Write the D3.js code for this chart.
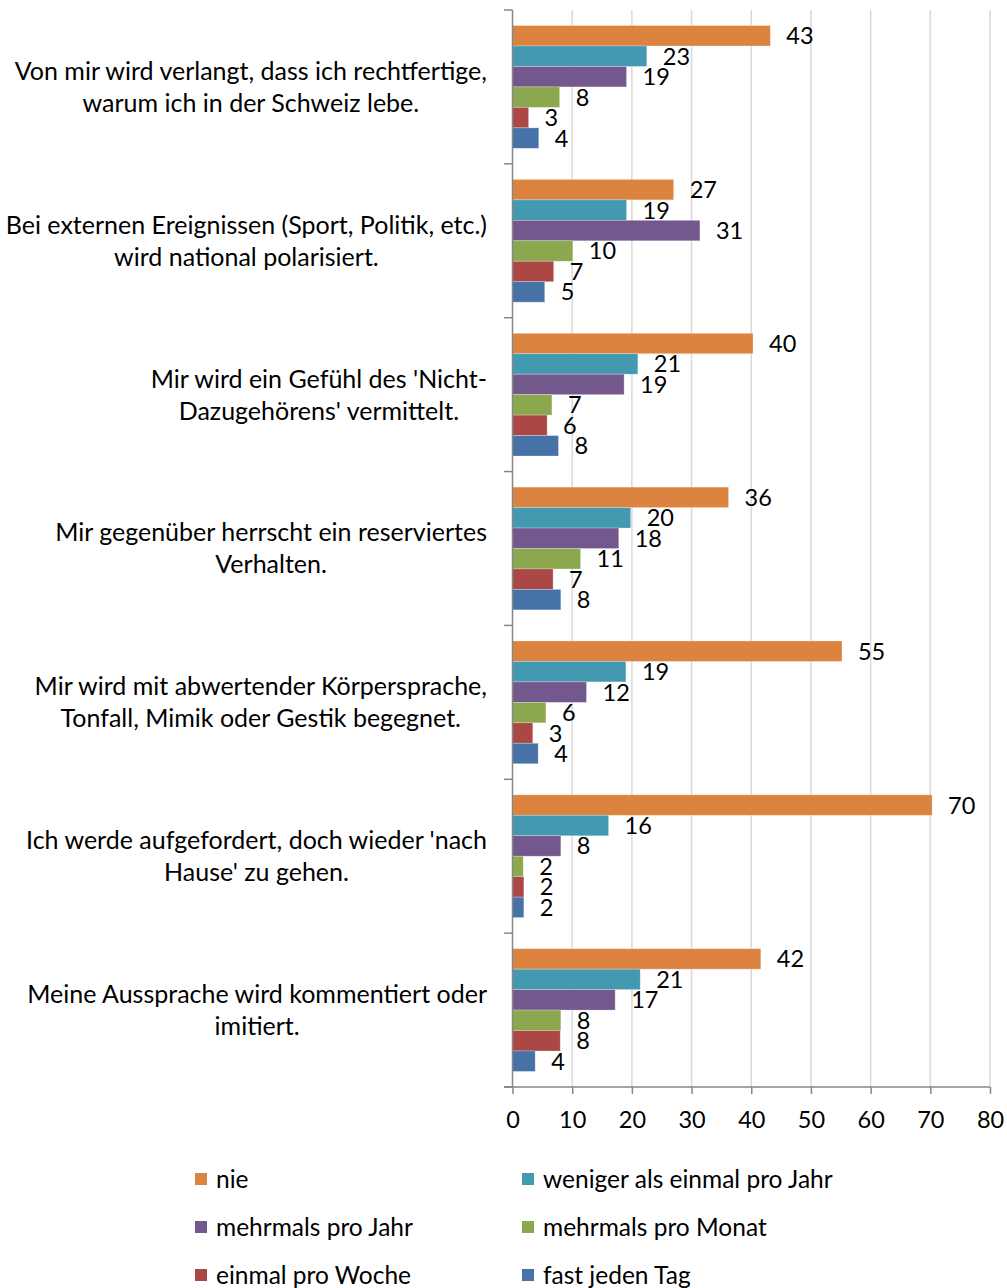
<!DOCTYPE html>
<html>
<head>
<meta charset="utf-8">
<script src="https://cdn.jsdelivr.net/npm/d3@7"></script>
<style>
  body { margin: 0; background: #fff; }
  svg text { font-family: Lato, "Open Sans", sans-serif; fill: #000; }
</style>
</head>
<body>
<div id="container"></div>
<script>
let width = 1007;
let height = 1288;

// category labels, already broken into lines as in the picture
var categories = [
  ["Von mir wird verlangt, dass ich rechtfertige,", "warum ich in der Schweiz lebe."],
  ["Bei externen Ereignissen (Sport, Politik, etc.)", "wird national polarisiert."],
  ["Mir wird ein Gefühl des 'Nicht-", "Dazugehörens' vermittelt."],
  ["Mir gegenüber herrscht ein reserviertes", "Verhalten."],
  ["Mir wird mit abwertender Körpersprache,", "Tonfall, Mimik oder Gestik begegnet."],
  ["Ich werde aufgefordert, doch wieder 'nach", "Hause' zu gehen."],
  ["Meine Aussprache wird kommentiert oder", "imitiert."]
];

var seriesNames = ["nie", "weniger als einmal pro Jahr", "mehrmals pro Jahr",
  "mehrmals pro Monat", "einmal pro Woche", "fast jeden Tag"];

var seriesColors = ["#DC843F", "#4399B0", "#72588D", "#8BA84E", "#AB4745", "#4672A8"];

// one array per series, in category order
var nie       = [43.2, 27.0, 40.3, 36.2, 55.2, 70.3, 41.6];
var weniger   = [22.5, 19.1, 21.0, 19.8, 19.0, 16.1, 21.4];
var mehrJahr  = [19.1, 31.4, 18.7, 17.8, 12.4, 8.1, 17.2];
var mehrMonat = [7.9, 10.1, 6.6, 11.4, 5.6, 1.8, 8.1];
var woche     = [2.7, 6.9, 5.8, 6.8, 3.4, 1.9, 8.0];
var taeglich  = [4.4, 5.4, 7.7, 8.1, 4.3, 1.9, 3.8];

var xTicks = [0, 10, 20, 30, 40, 50, 60, 70, 80];

var series = [nie, weniger, mehrJahr, mehrMonat, woche, taeglich];

let viz = d3.select("#container").append("svg")
  .attr("width", width)
  .attr("height", height);

let x = d3.scaleLinear().domain([0, 80]).range([512.5, 990]);
let y = d3.scaleBand().domain(d3.range(categories.length)).range([10, 1087]);
let yInner = d3.scaleBand().domain(d3.range(series.length))
  .range([0, y.bandwidth()]).paddingOuter(0.76);

// gridlines
viz.append("g")
  .selectAll("line")
  .data(xTicks.slice(1))
  .enter().append("line")
    .attr("x1", d => x(d)).attr("x2", d => x(d))
    .attr("y1", 10).attr("y2", 1087)
    .attr("stroke", "#d9d9d9")
    .attr("stroke-width", 1.5);

// bars
let group = viz.selectAll(".cat")
  .data(categories)
  .enter().append("g")
    .attr("class", "cat")
    .attr("transform", (d, i) => "translate(0," + y(i) + ")");

group.each(function(c, ci) {
  let g = d3.select(this);
  let vals = series.map(s => s[ci]);

  g.selectAll("rect")
    .data(vals)
    .enter().append("rect")
      .attr("x", x(0))
      .attr("y", (d, si) => yInner(si))
      .attr("width", d => x(d) - x(0))
      .attr("height", yInner.bandwidth())
      .attr("fill", (d, si) => seriesColors[si])
      .attr("stroke", "#fff")
      .attr("stroke-opacity", 0.35)
      .attr("stroke-width", 0.75);

  g.selectAll(".val")
    .data(vals)
    .enter().append("text")
      .attr("class", "val")
      .attr("x", d => x(d) + 16)
      .attr("y", (d, si) => yInner(si) + yInner.bandwidth() / 2)
      .attr("dy", "0.36em")
      .style("font-size", "23.5px")
      .text(d => Math.round(d));

  // label block: right aligned to the axis, lines centered inside it
  let lab = g.append("text")
    .style("font-size", "25px")
    .attr("text-anchor", "middle");
  lab.selectAll("tspan")
    .data(c)
    .enter().append("tspan")
      .attr("y", (d, li) => y.bandwidth() / 2 + (li - (c.length - 1) / 2) * 32)
      .attr("dy", "0.36em")
      .text(d => d);
  let maxW = 0;
  lab.selectAll("tspan").each(function() {
    maxW = Math.max(maxW, this.getComputedTextLength());
  });
  lab.selectAll("tspan").attr("x", 487 - maxW / 2);
});

// y axis with ticks between categories
let yAxis = viz.append("g");
yAxis.append("line")
  .attr("x1", x(0)).attr("x2", x(0))
  .attr("y1", 10).attr("y2", 1087)
  .attr("stroke", "#868686").attr("stroke-width", 1.5);
yAxis.selectAll(".yt")
  .data(d3.range(categories.length + 1))
  .enter().append("line")
    .attr("x1", 504).attr("x2", x(0))
    .attr("y1", i => i < categories.length ? y(i) : 1087)
    .attr("y2", i => i < categories.length ? y(i) : 1087)
    .attr("stroke", "#868686").attr("stroke-width", 1.5);

// x axis
let xAxis = viz.append("g")
  .attr("transform", "translate(0,1087)")
  .call(d3.axisBottom(x).tickValues(xTicks).tickSize(7).tickSizeOuter(0).tickPadding(17));
xAxis.select(".domain").remove();
xAxis.append("line")
  .attr("x1", 504).attr("x2", 990)
  .attr("stroke", "#868686").attr("stroke-width", 1.5);
xAxis.selectAll(".tick line").attr("stroke", "#868686").attr("stroke-width", 1.5);
xAxis.selectAll(".tick text")
  .style("font-size", "23.5px")
  .style("font-family", "Lato, 'Open Sans', sans-serif")
  .attr("fill", "#000");

// legend, two columns
let legend = viz.append("g")
  .selectAll(".leg")
  .data(seriesNames)
  .enter().append("g")
    .attr("class", "leg")
    .attr("transform", (d, i) => "translate(" + (i % 2 === 0 ? 195 : 522) + "," + (1179 + Math.floor(i / 2) * 48) + ")");

legend.append("rect")
  .attr("x", 0).attr("y", -6)
  .attr("width", 12).attr("height", 12)
  .attr("fill", (d, i) => seriesColors[i]);

legend.append("text")
  .attr("x", 21)
  .attr("dy", "0.36em")
  .style("font-size", "24.5px")
  .text(d => d);
</script>
</body>
</html>
